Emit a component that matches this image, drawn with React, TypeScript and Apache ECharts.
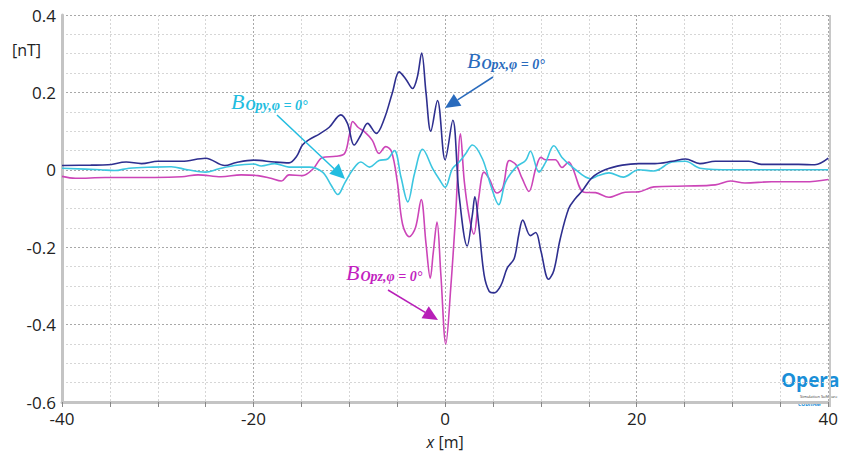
import React, { useEffect, useRef } from "react";
import * as echarts from "echarts";

// x positions [m] and field values [nT]
const bxX = [-40, -37, -35.2, -33.3, -31.7, -30, -27.5, -25, -23, -21.8, -20, -17.8, -16.3, -15.5, -14.9, -14.2, -13.1, -12.1, -10.9, -10.2, -9.5, -8.8, -8.1, -7.2, -6.35, -5.5, -4.8, -4.1, -3.4, -2.9, -2.45, -2.0, -1.5, -0.8, 0.0, 0.8, 1.46, 2.3, 2.85, 3.1, 3.5, 4.06, 4.6, 5.1, 5.8, 6.5, 7.2, 7.7, 8.1, 8.9, 9.45, 10.0, 10.8, 11.35, 12.0, 12.9, 13.6, 14.3, 15.35, 16.7, 18.5, 20.2, 21.9, 23.7, 25.1, 26.6, 28.2, 31.7, 33, 36.9, 38.6, 40];
const bxY = [0.011, 0.012, 0.013, 0.02, 0.016, 0.022, 0.022, 0.03, 0.011, 0.019, 0.025, 0.02, 0.018, 0.035, 0.064, 0.078, 0.093, 0.11, 0.142, 0.12, 0.064, 0.09, 0.12, 0.094, 0.132, 0.2, 0.253, 0.234, 0.21, 0.24, 0.302, 0.2, 0.1, 0.179, 0.026, 0.128, -0.066, -0.197, -0.115, -0.07, -0.14, -0.27, -0.314, -0.318, -0.3, -0.253, -0.23, -0.166, -0.13, -0.17, -0.162, -0.21, -0.283, -0.26, -0.18, -0.1, -0.074, -0.055, -0.02, 0.0, 0.012, 0.016, 0.016, 0.022, 0.028, 0.016, 0.022, 0.022, 0.014, 0.014, 0.013, 0.03];

const byX = [-40, -36, -34.5, -33, -30.5, -28.6, -26.9, -25, -23.7, -22, -20, -19.2, -17.8, -16.3, -14.2, -12.8, -11.9, -11.2, -10.5, -9.65, -8.8, -7.9, -6.9, -6.0, -5.3, -4.6, -3.9, -3.2, -2.35, -1.3, -0.6, 0.0, 0.76, 1.46, 2.1, 2.85, 3.9, 4.76, 5.6, 6.3, 7.4, 8.4, 8.9, 9.8, 10.5, 11.35, 12.2, 13.3, 15.2, 16, 17.1, 18.6, 20.2, 21.8, 23.7, 25.1, 26.6, 30, 40];
const byY = [0.004, 0.0, -0.002, 0.004, 0.007, 0.008, 0.0, -0.006, 0.002, 0.011, 0.015, 0.01, 0.016, 0.007, 0.007, -0.006, -0.04, -0.064, -0.035, 0.0, 0.02, 0.007, 0.024, 0.028, 0.05, -0.02, -0.083, -0.01, 0.053, 0.003, -0.025, -0.045, 0.003, 0.02, 0.04, 0.064, 0.028, -0.04, -0.09, -0.032, 0.007, 0.024, 0.048, -0.006, 0.02, 0.062, 0.032, 0.007, -0.023, -0.015, -0.008, -0.019, 0.0, -0.003, 0.02, 0.022, 0.004, 0.0, 0.0];

const bzX = [-40, -38.6, -35.5, -30.3, -27.5, -25.8, -23.4, -21.3, -19.55, -18.2, -17.1, -16.3, -14.9, -13.8, -12.8, -11.4, -10.5, -10, -9.65, -9.1, -8.4, -7.6, -6.9, -6.2, -5.6, -5.0, -4.45, -3.75, -3.1, -2.5, -2.0, -1.55, -1.25, -0.85, -0.45, 0.07, 0.6, 1.1, 1.6, 2.0, 2.5, 3.0, 3.5, 4.06, 4.6, 5.4, 6.0, 6.7, 7.4, 8.05, 8.75, 9.45, 10, 10.5, 11.5, 12.2, 12.9, 13.3, 14.5, 15.7, 17.1, 18.8, 20.2, 21.8, 25.1, 28.2, 29.8, 31.3, 34.1, 37.6, 40];
const bzY = [-0.017, -0.022, -0.02, -0.02, -0.018, -0.013, -0.018, -0.013, -0.015, -0.022, -0.029, -0.013, -0.015, 0.002, 0.032, 0.035, 0.042, 0.09, 0.125, 0.11, 0.098, 0.076, 0.042, 0.06, 0.047, -0.03, -0.14, -0.173, -0.15, -0.077, -0.19, -0.28, -0.216, -0.135, -0.27, -0.45, -0.3, -0.115, 0.093, -0.03, -0.12, -0.166, -0.074, -0.006, -0.023, -0.06, -0.048, 0.024, 0.013, -0.023, -0.056, 0.002, 0.032, 0.026, 0.026, 0.006, 0.02, 0.005, -0.058, -0.059, -0.071, -0.058, -0.057, -0.044, -0.042, -0.039, -0.029, -0.034, -0.031, -0.031, -0.025];

const X_MIN = -40, X_MAX = 40, Y_MIN = -0.6, Y_MAX = 0.4;

const NAVY = "#2e2f8f";
const CYAN = "#3cc6e0";
const MAGENTA = "#cc45b8";
const FONT = "'Open Sans', 'Noto Sans', sans-serif";
const SERIF = "'Liberation Serif', 'DejaVu Serif', serif";

const zip = (xs: number[], ys: number[]) => xs.map((x, i) => [x, ys[i]]);

function label(text: string, sub: string, color: string, x: number, y: number) {
  return {
    type: "text",
    left: x,
    top: y,
    z: 100,
    style: {
      text: `{b|${text}}{s|${sub}}`,
      rich: {
        b: { fontFamily: SERIF, fontStyle: "italic", fontSize: 22, fill: color, lineHeight: 24, verticalAlign: "bottom" },
        s: { fontFamily: SERIF, fontStyle: "italic", fontWeight: "bold", fontSize: 14, fill: color, lineHeight: 17, verticalAlign: "bottom", padding: [10, 0, 0, 1] },
      },
    },
  };
}

function arrow(x1: number, y1: number, x2: number, y2: number, color: string) {
  const a = Math.atan2(y2 - y1, x2 - x1);
  const L = 15, W = 7;
  const bx = x2 - L * Math.cos(a), by = y2 - L * Math.sin(a);
  const px = -Math.sin(a) * W, py = Math.cos(a) * W;
  return [
    { type: "line", z: 100, shape: { x1, y1, x2: bx, y2: by }, style: { stroke: color, lineWidth: 1.5 } },
    { type: "polygon", z: 100, shape: { points: [[x2, y2], [bx + px, by + py], [bx - px, by - py]] }, style: { fill: color } },
  ];
}

export default function App() {
  const ref = useRef<HTMLDivElement>(null);
  useEffect(() => {
    if (!ref.current) return;
    const chart = echarts.init(ref.current, null, { renderer: "svg" });
    const minorLine = { show: true, lineStyle: { color: "#d6d6d6", width: 1, type: [2, 2] } };
    const majorLine = { show: true, lineStyle: { color: "#a8a8a8", width: 1, type: [2, 2] } };
    const lbl = { color: "#222", fontSize: 17, fontFamily: FONT };
    chart.setOption({
      animation: false,
      backgroundColor: "#fff",
      grid: { left: 62, right: 11, top: 15, bottom: 48, containLabel: false },
      xAxis: [
        {
          type: "value", min: X_MIN, max: X_MAX, interval: 5, position: "bottom",
          axisLine: { show: true, onZero: false, lineStyle: { color: "#c4c4c4", width: 3 } },
          axisTick: { show: true, length: 5, lineStyle: { color: "#888", width: 1 } },
          axisLabel: { show: false },
          splitLine: minorLine,
        },
        {
          type: "value", min: X_MIN, max: X_MAX, interval: 20, position: "bottom",
          axisLine: { show: false }, axisTick: { show: false },
          axisLabel: { ...lbl, margin: 8, formatter: (v: number) => String(Math.round(v)) },
          splitLine: majorLine,
          name: "{i|x} [m]", nameLocation: "middle", nameGap: 32,
          nameTextStyle: { color: "#222", fontSize: 16, fontFamily: FONT, rich: { i: { fontStyle: "italic", fontSize: 16, fontFamily: FONT, color: "#222" } } },
        },
      ],
      yAxis: [
        {
          type: "value", min: Y_MIN, max: Y_MAX, interval: 0.05, position: "left",
          axisLine: { show: true, onZero: false, lineStyle: { color: "#c4c4c4", width: 3 } },
          axisTick: { show: false }, axisLabel: { show: false },
          splitLine: minorLine,
        },
        {
          type: "value", min: Y_MIN, max: Y_MAX, interval: 0.2, position: "left",
          axisLine: { show: false }, axisTick: { show: false },
          axisLabel: { ...lbl, margin: 6, formatter: (v: number) => String(Math.round(v * 10) / 10) },
          splitLine: majorLine,
        },
      ],
      series: [
        { name: "Bz", type: "line", data: zip(bzX, bzY), smooth: 0.35, showSymbol: false, lineStyle: { color: MAGENTA, width: 1.6 }, z: 3 },
        { name: "By", type: "line", data: zip(byX, byY), smooth: 0.35, showSymbol: false, lineStyle: { color: CYAN, width: 1.6 }, z: 4 },
        { name: "Bx", type: "line", data: zip(bxX, bxY), smooth: 0.35, showSymbol: false, lineStyle: { color: NAVY, width: 1.6 }, z: 5 },
      ],
      graphic: [
        { type: "rect", z: 1, shape: { x: 829, y: 15, width: 2, height: 392 }, style: { fill: "#c8c8c8" } },
        { type: "text", left: 12, top: 42, style: { text: "[nT]", fontSize: 16, fontFamily: FONT, fill: "#222" } },
        label("B", "Opy,φ = 0°", "#22bde0", 231, 88),
        label("B", "Opx,φ = 0°", "#2a6bbd", 467, 47),
        label("B", "Opz,φ = 0°", "#c21fc0", 346, 259),
        ...arrow(277, 115, 345, 179, "#22bde0"),
        ...arrow(493, 77, 445, 108, "#2a6bbd"),
        ...arrow(388, 290, 438, 320, "#b81fb8"),
        { type: "text", left: 781, top: 370, style: { text: "Opera", fontSize: 19, lineHeight: 18, fontWeight: "bold", fontFamily: FONT, fill: "#1a8fd8" } },
        { type: "text", left: 800, top: 394, style: { text: "Simulation Software", fontSize: 4, lineHeight: 4, fontFamily: FONT, fill: "#333" } },
        { type: "text", left: 798, top: 401, style: { text: "COBHAM", fontSize: 5.5, lineHeight: 6, fontStyle: "italic", fontWeight: "bold", fontFamily: FONT, fill: "#1a8fd8" } },
      ],
    });
    return () => chart.dispose();
  }, []);
  return <div ref={ref} style={{ position: "fixed", left: 0, top: 0, width: 841, height: 455 }} />;
}
